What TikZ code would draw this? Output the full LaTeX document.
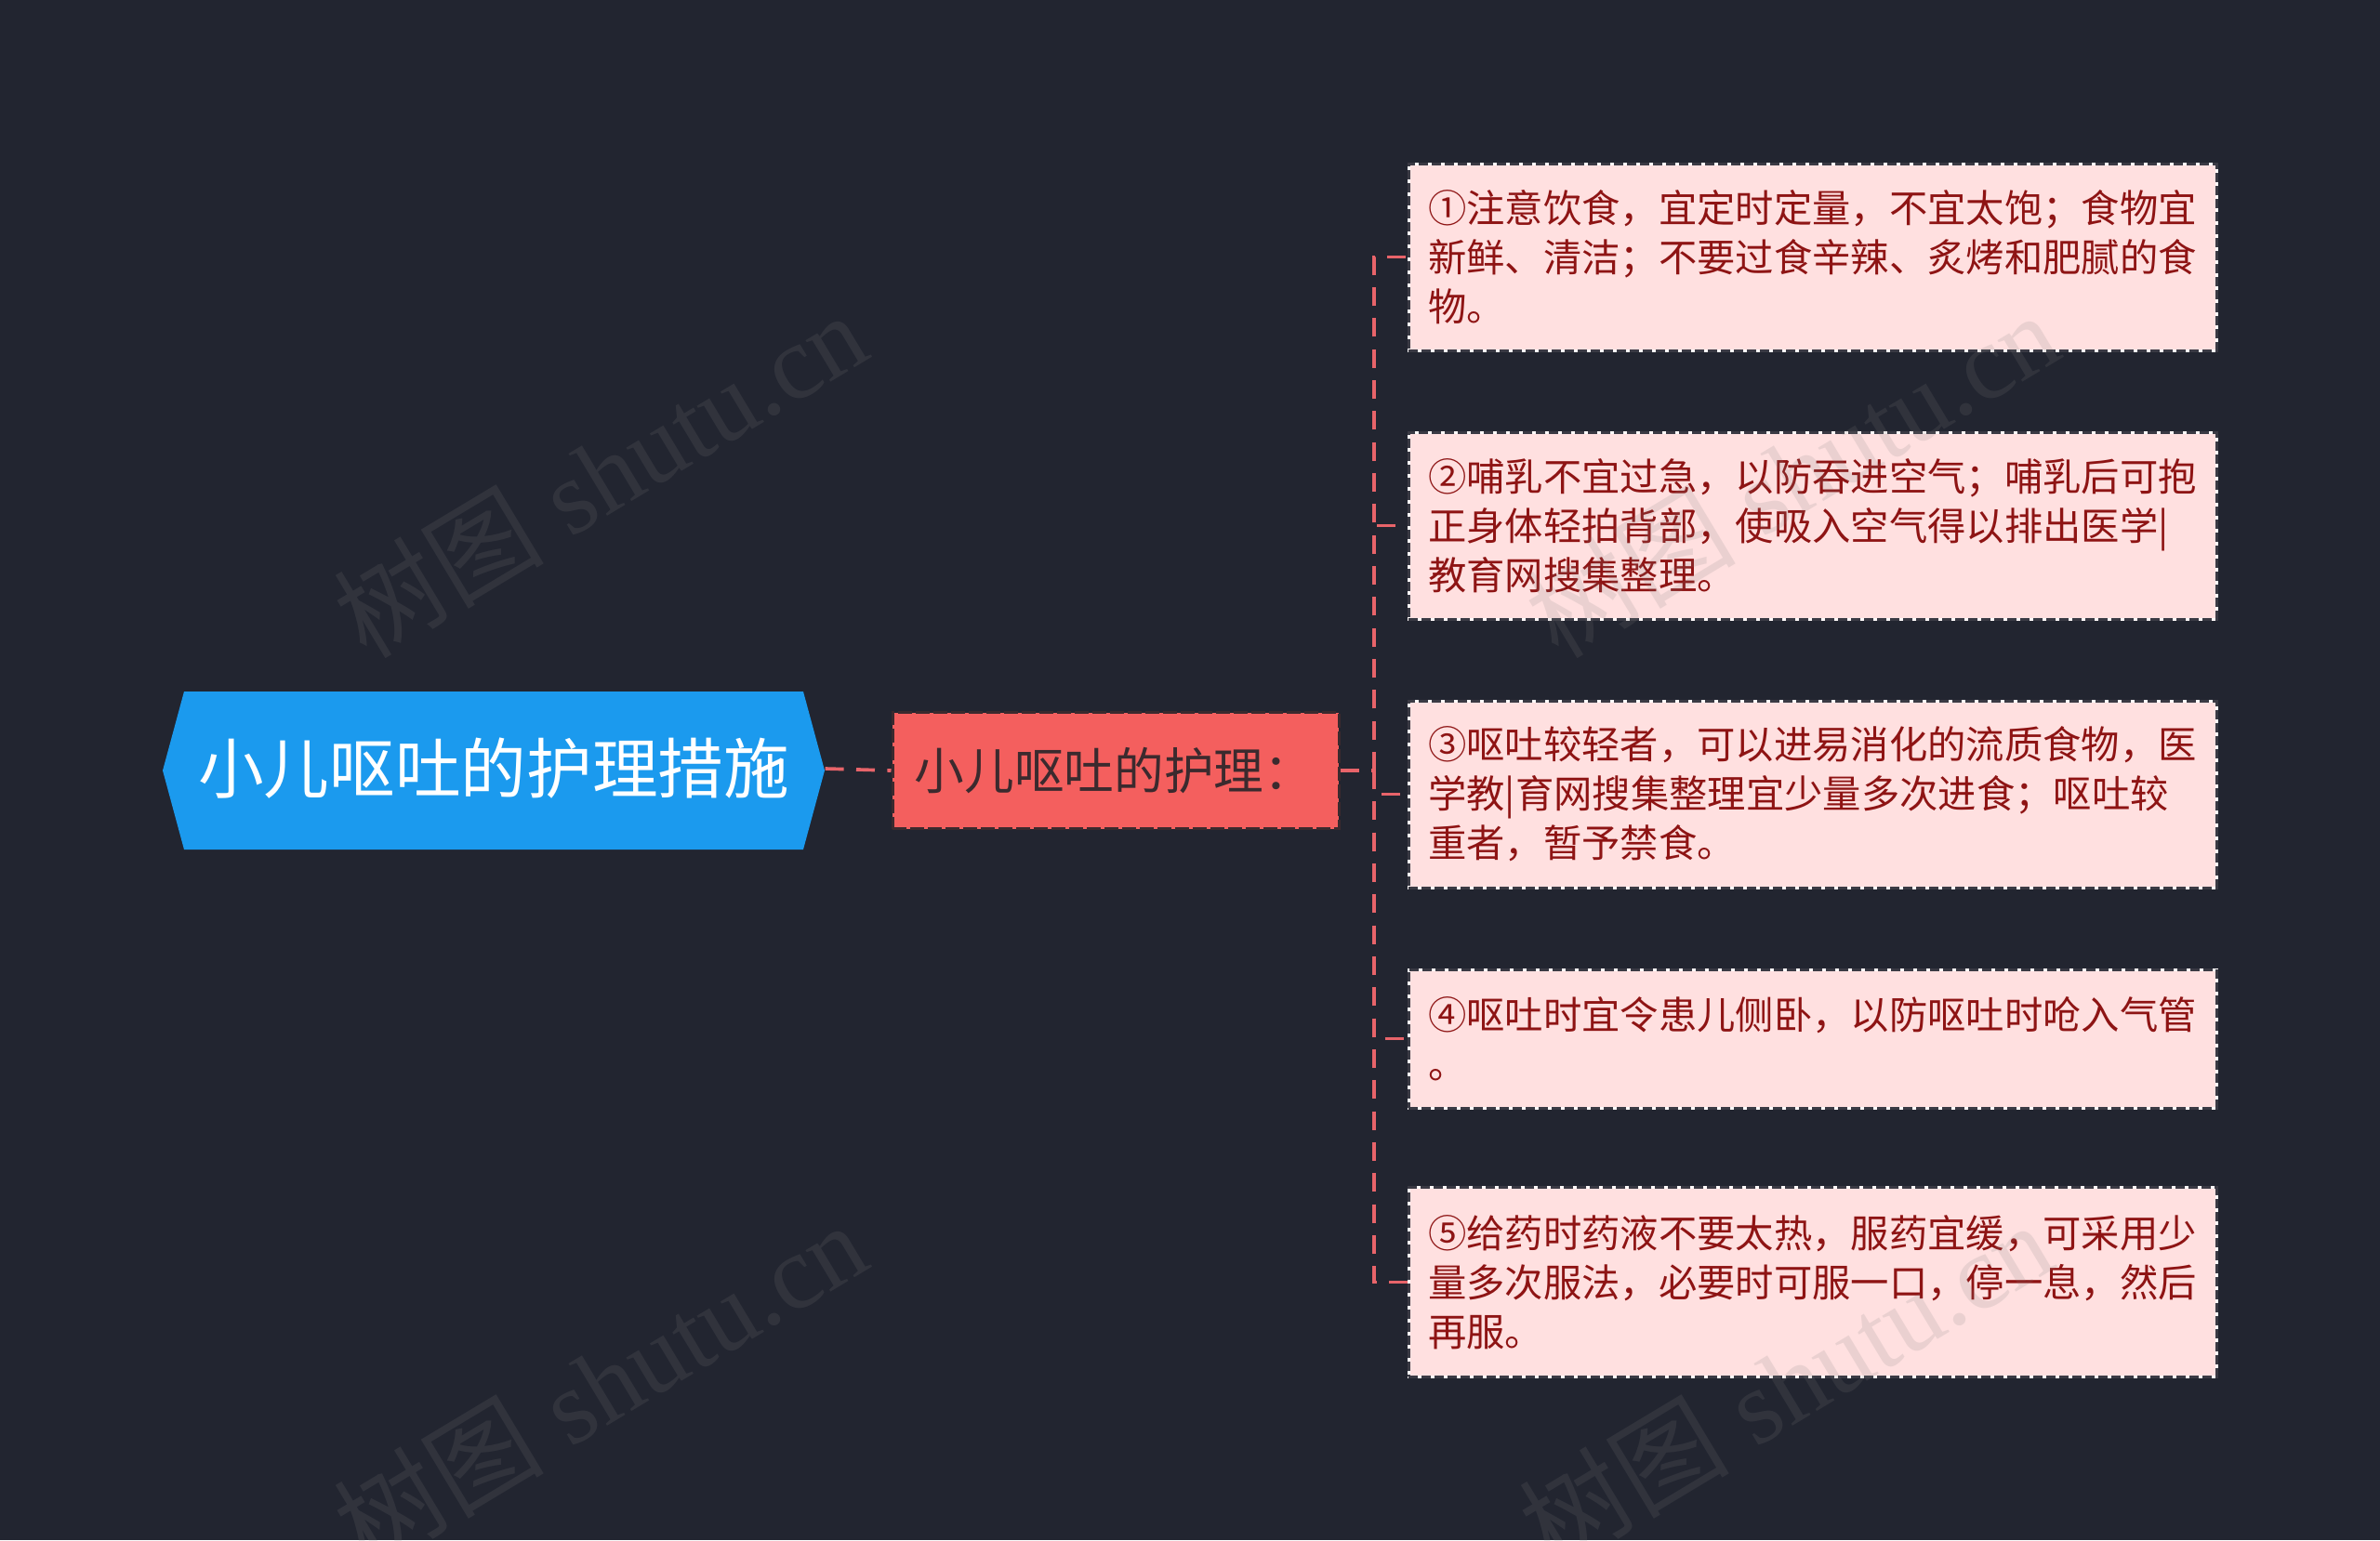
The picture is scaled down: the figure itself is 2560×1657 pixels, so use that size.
\documentclass[tikz,border=0pt]{standalone}
\usepackage{fontspec}
\setmainfont{Liberation Serif}
\newfontfamily\cjk{Noto Sans CJK SC}
\definecolor{bg}{HTML}{222530}
\definecolor{rootblue}{HTML}{1B9AEE}
\definecolor{midred}{HTML}{F45F5E}
\definecolor{pinkfill}{HTML}{FFE0E0}
\definecolor{boxtext}{HTML}{8E1414}
\definecolor{midtext}{HTML}{3B2A2E}
\definecolor{connred}{HTML}{E8646A}
\definecolor{dashdark}{HTML}{3A3A44}
\tikzset{
  conn/.style={draw=connred, line width=1.1pt, dash pattern=on 6pt off 4pt},
  leafbox/.style={fill=pinkfill, draw=white!85!pinkfill, line width=0.9pt,
    postaction={draw=dashdark, line width=0.9pt, dash pattern=on 3pt off 1.2pt},
    minimum width=260.7pt, inner sep=0pt, align=left, text=boxtext,
    font=\cjk\fontsize{12.4}{15.9}\selectfont},
  midbox/.style={fill=midred, draw=midtext, line width=0.9pt, dash pattern=on 4.5pt off 1.2pt,
    minimum width=144pt, minimum height=37.5pt, inner sep=0pt, text=midtext,
    font=\cjk\fontsize{16.1}{18}\selectfont},
  rootbox/.style={minimum width=213.6pt, minimum height=51pt, inner sep=0pt, text=white,
    font=\cjk\fontsize{21.2}{26}\selectfont},
  wmark/.style={rotate=31, text=gray, opacity=0.16, font=\fontsize{34}{40}\selectfont}
}
\begin{document}
\begin{tikzpicture}[x=0.3pt,y=-0.3pt]
\fill[bg] (0,0) rectangle (2560,1657);
\useasboundingbox (0,0) rectangle (2560,1657);

% root
\fill[rootblue] (175,829) -- (198,744) -- (864,744) -- (887,829) -- (864,914) -- (198,914) -- cycle;
\node[rootbox] (root) at (531,827) {小儿呕吐的护理措施};

% middle
\node[midbox] (mid) at (1200,829) {\hspace*{-1pt}小儿呕吐的护理：};

% leaves
\node[leafbox, minimum height=60.3pt] (b1) at (1949.5,276.5)
  {①注意饮食，宜定时定量，不宜太饱；食物宜\\新鲜、清洁；不要过食辛辣、炙烤和肥腻的食\\物。};
\node[leafbox, minimum height=60.3pt] (b2) at (1949.5,565.5)
  {②哺乳不宜过急，以防吞进空气；哺乳后可抱\\正身体轻拍背部，使吸入空气得以排出医学|\\教育网搜集整理。};
\node[leafbox, minimum height=60.3pt] (b3) at (1949.5,854.5)
  {③呕吐较轻者，可以进易消化的流质食物，医\\学教|育网搜集整理宜少量多次进食；呕吐较\\重者，暂予禁食。};
\node[leafbox, minimum height=44.7pt] (b4) at (1949.5,1117.5)
  {④呕吐时宜令患儿侧卧，以防呕吐时呛入气管\\。};
\node[leafbox, minimum height=61pt] (b5) at (1949.5,1379.5)
  {⑤给药时药液不要太热，服药宜缓，可采用少\\量多次服法，必要时可服一口，停一息，然后\\再服。};

% connectors
\coordinate (trunk) at (1478,829);
\draw[conn] (root.east) -- (mid.west);
\draw[conn] (mid.east) -- (trunk);
\foreach \b in {b1,b2,b3,b4,b5}{
  \draw[conn] (trunk) |- (\b.west);
}

% watermarks
\node[wmark] (wm1) at (645,510) {{\cjk 树图} shutu.cn};
\node[wmark] (wm2) at (1927,510) {{\cjk 树图} shutu.cn};
\node[wmark] (wm3) at (645,1489) {{\cjk 树图} shutu.cn};
\node[wmark] (wm4) at (1920,1489) {{\cjk 树图} shutu.cn};
\end{tikzpicture}
\end{document}
